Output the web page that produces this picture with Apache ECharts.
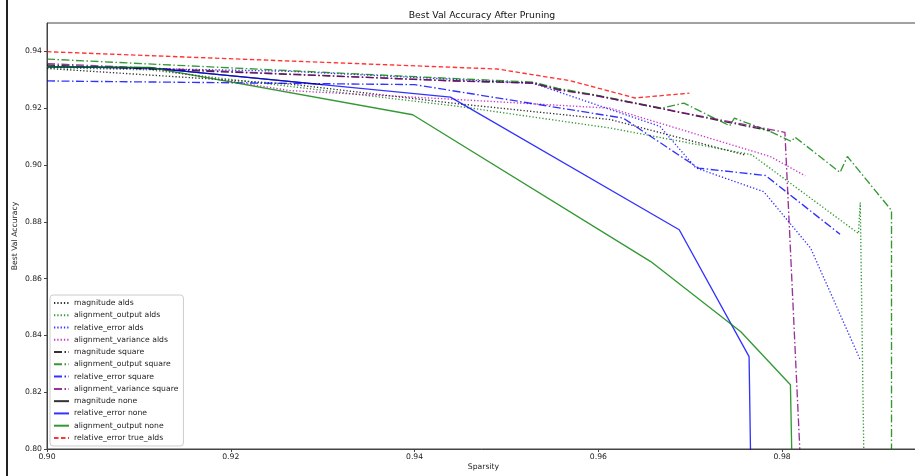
<!DOCTYPE html>
<html>
<head>
<meta charset="utf-8">
<script src="https://cdn.jsdelivr.net/npm/echarts@6/dist/echarts.min.js"></script>
<style>html,body{margin:0;padding:0;background:#fff}#c{width:915px;height:476px}</style>
</head>
<body>
<div id="c"></div>
<script>
// ---- data (sparsity, best val accuracy) ----
const xTicks = [0.90, 0.92, 0.94, 0.96, 0.98];
const yTicks = [0.80, 0.82, 0.84, 0.86, 0.88, 0.90, 0.92, 0.94];

const magnitudeAlds = [[0.900,0.9340],[0.9264,0.9285],[0.9449,0.9215],[0.9613,0.9160],[0.9760,0.9035]];
const alignmentOutputAlds = [[0.900,0.9343],[0.9112,0.9335],[0.9449,0.9206],[0.9613,0.9130],[0.9767,0.9036],[0.9883,0.8759],[0.9885,0.8868],[0.9889,0.7950]];
const relativeErrorAlds = [[0.900,0.9346],[0.9264,0.9330],[0.9529,0.9288],[0.9667,0.9136],[0.9706,0.8990],[0.9780,0.8906],[0.9831,0.8707],[0.9885,0.8314]];
const alignmentVarianceAlds = [[0.900,0.9345],[0.9112,0.9340],[0.9264,0.9262],[0.9439,0.9232],[0.9613,0.9200],[0.9787,0.9030],[0.9825,0.8962]];
const magnitudeSquare = [[0.900,0.9352],[0.9439,0.9297],[0.9529,0.9289],[0.9556,0.9267],[0.9596,0.9246],[0.9787,0.9120]];
const alignmentOutputSquare = [[0.900,0.9373],[0.9439,0.9305],[0.9529,0.9292],[0.9556,0.9270],[0.9596,0.9247],[0.9669,0.9200],[0.9693,0.9218],[0.9743,0.9138],[0.9748,0.9165],[0.9787,0.9118],[0.9810,0.9083],[0.9814,0.9098],[0.9863,0.8974],[0.9871,0.9030],[0.9919,0.8840],[0.9919,0.7900]];
const relativeErrorSquare = [[0.900,0.9296],[0.9400,0.9283],[0.9627,0.9165],[0.9709,0.8989],[0.9782,0.8963],[0.9863,0.8756]];
const alignmentVarianceSquare = [[0.900,0.9357],[0.9439,0.9296],[0.9529,0.9288],[0.9556,0.9264],[0.9596,0.9245],[0.9803,0.9115],[0.98193,0.7993]];
const magnitudeNone = [[0.900,0.9346],[0.9112,0.9342],[0.9300,0.9283]];
const relativeErrorNone = [[0.900,0.9346],[0.9112,0.9342],[0.9439,0.9239],[0.9688,0.8772],[0.9764,0.8325],[0.9766,0.7900]];
const alignmentOutputNone = [[0.900,0.9346],[0.9112,0.9344],[0.9398,0.9177],[0.9657,0.8660],[0.9755,0.8413],[0.9809,0.8226],[0.9811,0.7900]];
const relativeErrorTrueAlds = [[0.900,0.9399],[0.9490,0.9338],[0.9569,0.9297],[0.9640,0.9236],[0.9699,0.9253]];

// ---- styles ----
const C = {
  black: 'rgba(0,0,0,0.8)', green: 'rgba(0,128,0,0.8)', blue: 'rgba(0,0,255,0.8)',
  magenta: 'rgba(191,0,191,0.8)', purple: 'rgba(128,0,128,0.8)', red: 'rgba(255,0,0,0.8)'
};
const DOT = [1.3, 2], DASHDOT = [8, 2.5, 1.5, 2.5], DASH = [4.5, 2.5];
const FONT = 'DejaVu Sans';

function mk(name, data, color, type) {
  return {
    name, type: 'line', data, symbol: 'none', showSymbol: false, clip: true,
    lineStyle: { color, width: 1.35, type: type },
    itemStyle: { color },
    emphasis: { disabled: true }, animation: false
  };
}

const series = [
  mk('magnitude alds', magnitudeAlds, C.black, DOT),
  mk('alignment_output alds', alignmentOutputAlds, C.green, DOT),
  mk('relative_error alds', relativeErrorAlds, C.blue, DOT),
  mk('alignment_variance alds', alignmentVarianceAlds, C.magenta, DOT),
  mk('magnitude square', magnitudeSquare, C.black, DASHDOT),
  mk('alignment_output square', alignmentOutputSquare, C.green, DASHDOT),
  mk('relative_error square', relativeErrorSquare, C.blue, DASHDOT),
  mk('alignment_variance square', alignmentVarianceSquare, C.purple, DASHDOT),
  mk('magnitude none', magnitudeNone, C.black, 'solid'),
  mk('relative_error none', relativeErrorNone, C.blue, 'solid'),
  mk('alignment_output none', alignmentOutputNone, C.green, 'solid'),
  mk('relative_error true_alds', relativeErrorTrueAlds, C.red, DASH)
];

const chart = echarts.init(document.getElementById('c'), null, { renderer: 'canvas' });
chart.setOption({
  animation: false,
  backgroundColor: '#fff',
  textStyle: { fontFamily: FONT },
  title: {
    text: 'Best Val Accuracy After Pruning', left: 482, top: 11, textAlign: 'center', padding: 0,
    textStyle: { fontFamily: FONT, fontSize: 9.3, fontWeight: 'normal', color: '#111' }
  },
  grid: { left: 47, width: 873, top: 23, height: 426, containLabel: false, outerBoundsMode: 'none',
          show: true, borderColor: '#444', borderWidth: 1, backgroundColor: '#fff' },
  legend: {
    orient: 'vertical', left: 50, top: 295, padding: [4, 5, 4, 3],
    itemWidth: 15, itemHeight: 8, itemGap: 4.27, itemTextGap: 8,
    itemStyle: { opacity: 0, borderWidth: 0 },
    backgroundColor: 'rgba(255,255,255,0.8)', borderColor: '#cccccc', borderWidth: 1, borderRadius: 3,
    textStyle: { fontFamily: FONT, fontSize: 7.7, color: '#222', lineHeight: 8 },
    data: series.map(s => s.name)
  },
  xAxis: {
    type: 'value', min: 0.90, max: 0.995,
    name: 'Sparsity', nameLocation: 'middle', nameGap: 14, nameMoveOverlap: false,
    nameTextStyle: { fontFamily: FONT, fontSize: 7.7, color: '#222' },
    axisLine: { show: true, onZero: false, lineStyle: { color: '#444', width: 1 } },
    axisTick: { show: true, length: 3, customValues: xTicks, lineStyle: { color: '#444' } },
    axisLabel: { customValues: xTicks, fontSize: 7.7, color: '#222', margin: 4, formatter: v => v.toFixed(2) },
    splitLine: { show: false }
  },
  yAxis: {
    type: 'value', min: 0.80, max: 0.95,
    name: 'Best Val Accuracy', nameLocation: 'middle', nameGap: 28, nameRotate: 90, nameMoveOverlap: false,
    nameTextStyle: { fontFamily: FONT, fontSize: 7.7, color: '#222' },
    axisLine: { show: true, onZero: false, lineStyle: { color: '#444', width: 1 } },
    axisTick: { show: true, length: 3, customValues: yTicks, lineStyle: { color: '#444' } },
    axisLabel: { customValues: yTicks, fontSize: 7.7, color: '#222', margin: 5, formatter: v => v.toFixed(2) },
    splitLine: { show: false }
  },
  graphic: [
    { type: 'rect', left: 6, top: 0, shape: { width: 2, height: 476 }, style: { fill: '#222' }, silent: true }
  ],
  series
});
</script>
</body>
</html>
